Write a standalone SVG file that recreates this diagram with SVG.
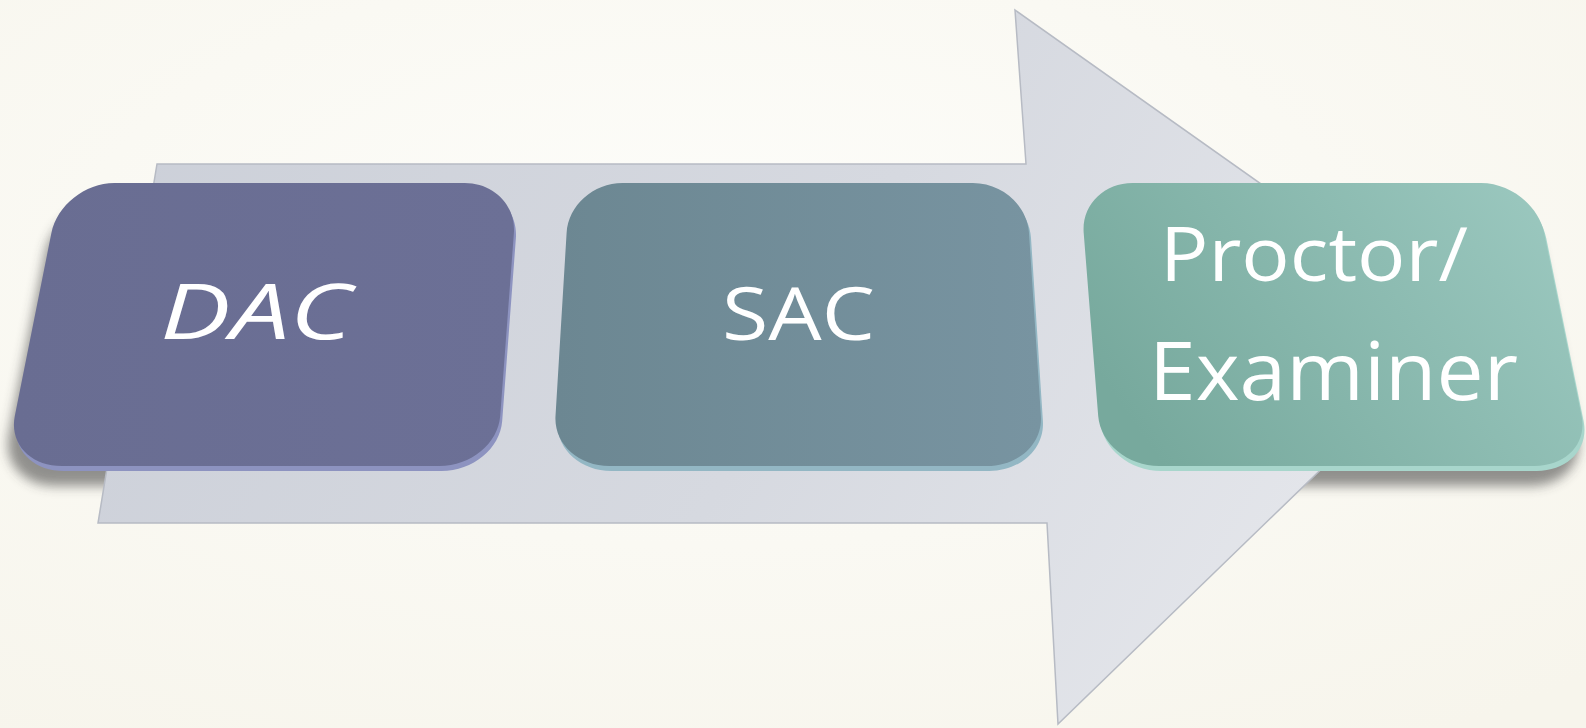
<svg xmlns="http://www.w3.org/2000/svg" width="1586" height="728" viewBox="0 0 1586 728">
<defs>
<radialGradient id="bg" cx="0.45" cy="0.35" r="0.8">
<stop offset="0" stop-color="#fdfdfa"/>
<stop offset="1" stop-color="#f7f5ec"/>
</radialGradient>
<linearGradient id="arrowFill" x1="0" y1="0" x2="1" y2="0.3">
<stop offset="0" stop-color="#cbcfd8"/>
<stop offset="0.6" stop-color="#d6d9e0"/>
<stop offset="1" stop-color="#e3e5ea"/>
</linearGradient>
<linearGradient id="dacFace" x1="0" y1="0" x2="1" y2="0">
<stop offset="0" stop-color="#696d92"/>
<stop offset="1" stop-color="#6c7096"/>
</linearGradient>
<linearGradient id="sacFace" x1="0" y1="0" x2="1" y2="0">
<stop offset="0" stop-color="#6c8792"/>
<stop offset="1" stop-color="#7894a1"/>
</linearGradient>
<linearGradient id="proFace" x1="0" y1="0.6" x2="1" y2="0.2">
<stop offset="0" stop-color="#77a99d"/>
<stop offset="1" stop-color="#9bc8bf"/>
</linearGradient>
<filter id="blur" x="-10%" y="-10%" width="120%" height="130%">
<feGaussianBlur stdDeviation="6"/>
</filter>
<path id="dacShape" d="M114.3,183 L464.7,183 C493.9,183 515.9,205.4 513.9,233 L500.2,416 C498.1,443.6 470.9,466 439.4,466 L61.9,466 C30.3,466 9.3,443.6 14.8,416 L51.4,233 C56.9,205.4 85.1,183 114.3,183 Z"/>
<path id="sacShape" d="M622.5,183 L972.9,183 C1002.1,183 1027.3,205.4 1029,233 L1040.9,416 C1042.7,443.6 1018.6,466 987.1,466 L609.5,466 C578,466 553.8,443.6 555.5,416 L566.6,233 C568.2,205.4 593.3,183 622.5,183 Z"/>
<path id="proShape" d="M1132.6,183 L1481.1,183 C1510.3,183 1538.6,205.4 1544.2,233 L1581.6,416 C1587.2,443.6 1566.3,466 1534.7,466 L1159.3,466 C1127.7,466 1100.4,443.6 1098.2,416 L1083.7,233 C1081.5,205.4 1103.4,183 1132.6,183 Z"/>
<style>
.shadow{fill:#3a3a3a;opacity:0.55;filter:url(#blur)}
.lbl{font-family:"Open Sans","Liberation Sans",sans-serif;fill:#ffffff}
</style>
</defs>
<rect width="1586" height="728" fill="url(#bg)"/>
<g id="shadows">
<use href="#dacShape" class="shadow" transform="translate(-6,20)"/>
<use href="#proShape" class="shadow" transform="translate(-4,20)"/>
</g>
<g id="connectors">
<path id="arrow" d="M157,164 L1026,164 L1015,10 L1466,329 L1058,724 L1047,523 L98,523 Z" fill="url(#arrowFill)" stroke="#b7bbc4" stroke-width="1.5" stroke-linejoin="miter"/>
</g>
<g id="node-dac">
<use href="#dacShape" transform="translate(2,5)" fill="#8d93c0"/>
<use href="#dacShape" fill="url(#dacFace)"/>
<text class="lbl" x="160" y="339" font-size="76" font-style="italic" textLength="192" lengthAdjust="spacingAndGlyphs">DAC</text>
</g>
<g id="node-sac">
<use href="#sacShape" transform="translate(2,5)" fill="#93b7c4"/>
<use href="#sacShape" fill="url(#sacFace)"/>
<text class="lbl" x="722" y="340" font-size="73" textLength="153" lengthAdjust="spacingAndGlyphs">SAC</text>
</g>
<g id="node-proctor">
<use href="#proShape" transform="translate(2,5)" fill="#a8d6cc"/>
<use href="#proShape" fill="url(#proFace)"/>
<text class="lbl" x="1160" y="281" font-size="75" textLength="308" lengthAdjust="spacingAndGlyphs">Proctor/</text>
<text class="lbl" x="1149" y="400" font-size="80" textLength="369" lengthAdjust="spacingAndGlyphs">Examiner</text>
</g>
</svg>
